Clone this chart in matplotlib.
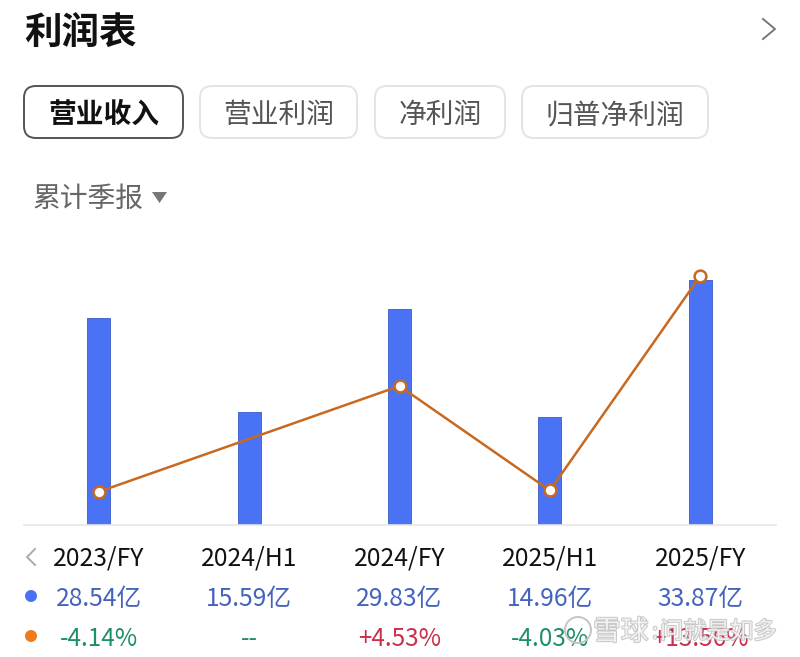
import matplotlib
matplotlib.use("Agg")
import matplotlib.pyplot as plt
import matplotlib.patheffects as pe
from matplotlib.patches import FancyBboxPatch, Polygon, Circle

plt.rcParams['font.family'] = ['Noto Sans CJK SC', 'DejaVu Sans']

periods = ['2023/FY', '2024/H1', '2024/FY', '2025/H1', '2025/FY']
revenue = [28.54, 15.59, 29.83, 14.96, 33.87]
growth = [-4.14, None, 4.53, -4.03, 13.56]
revenue_labels = ['28.54亿', '15.59亿', '29.83亿', '14.96亿', '33.87亿']
growth_labels = ['-4.14%', '--', '+4.53%', '-4.03%', '+13.56%']
tabs = ['营业收入', '营业利润', '净利润', '归普净利润']

W, H = 800, 657
BLUE = '#4a72f5'
ORANGE = '#c8691f'
GREEN = '#1f8f68'
RED = '#c9304f'
GREY = '#555555'

fig = plt.figure(figsize=(8, 6.57), dpi=100, facecolor='white')

# page furniture in pixel coordinates
bg = fig.add_axes([0, 0, 1, 1])
bg.set_xlim(0, W)
bg.set_ylim(H, 0)
bg.axis('off')

bg.text(24, 32, '利润表', fontsize=27, fontweight='bold', color='#111111', ha='left', va='center')
bg.plot([763, 775, 763], [19, 29, 39], color='#777777', lw=1.4)

boxes = [(24, 183), (200, 357), (375, 505), (522, 708)]
for i, (name, (x0, x1)) in enumerate(zip(tabs, boxes)):
    active = i == 0
    bg.add_patch(FancyBboxPatch((x0 + 12, 86 + 12), x1 - x0 - 24, 52 - 24,
                                boxstyle='round,pad=12,rounding_size=12',
                                fc='white', ec='#555555' if active else '#e4e4e4',
                                lw=1.4))
    bg.text((x0 + x1) / 2, 115, name, fontsize=20, ha='center', va='center',
            color='#111111' if active else '#555555',
            fontweight='bold' if active else 'normal')

bg.text(33, 199, '累计季报', fontsize=20, color='#666666', ha='left', va='center')
bg.add_patch(Polygon([[152, 192], [167, 192], [159.5, 203]], closed=True, fc='#777777', ec='none'))

bg.plot([35, 27, 35], [549, 557, 565], color='#aaaaaa', lw=1.4)
bg.add_patch(Circle((31, 596), 6, fc=BLUE, ec='none'))
bg.add_patch(Circle((31, 636), 6, fc='#f07a1c', ec='none'))

# chart: bars on the left scale, growth line on a twin scale
ax = fig.add_axes([23.5 / W, 1 - 525 / H, 752 / W, 275 / H])
ax.patch.set_alpha(0)
ax.set_xlim(-0.5, 4.5)
ax.set_ylim(0, 275 / 7.24)
x = list(range(len(periods)))
ax.bar(x, revenue, width=0.153, color=BLUE, edgecolor='#3a5bc8', linewidth=0.6, zorder=2)

for side in ['top', 'left', 'right']:
    ax.spines[side].set_visible(False)
ax.spines['bottom'].set_color('#e6e6e6')
ax.spines['bottom'].set_linewidth(1.2)
ax.set_yticks([])
ax.set_xticks(x)
ax.set_xticklabels(periods, fontsize=17.8, color='#111111')
ax.tick_params(axis='x', length=0, pad=14.5)

ax2 = ax.twinx()
ax2.set_ylim(-6.86, 15.68)
ax2.set_yticks([])
for side in ax2.spines:
    ax2.spines[side].set_visible(False)
gx = [i for i, v in zip(x, growth) if v is not None]
gy = [v for v in growth if v is not None]
ax2.plot(gx, gy, color=ORANGE, lw=1.8, marker='o', ms=8.5, mfc='white', mec=ORANGE, mew=1.8,
         zorder=3, clip_on=False)

# value rows under the axis
trans = ax.get_xaxis_transform()
for i, label in enumerate(revenue_labels):
    ax.text(i, -74 / 275, label, transform=trans, fontsize=17.8, color='#4463bd',
            ha='center', va='center')
for i, label in enumerate(growth_labels):
    if label.startswith('-'):
        c = GREEN
    elif label.startswith('+'):
        c = RED
    else:
        c = GREY
    ax.text(i, -114 / 275, label, transform=trans, fontsize=17.5, color=c,
            ha='center', va='center')

# watermark
halo = [pe.withStroke(linewidth=1.4, foreground='#b5b5b5')]
fig.text(593 / W, 1 - 632 / H, '雪球', fontsize=20, color='white', ha='left', va='center',
         alpha=0.75, path_effects=halo)
fig.text(652 / W, 1 - 632 / H, ':', fontsize=16, color='white', ha='left', va='center',
         alpha=0.75, path_effects=halo)
fig.text(660 / W, 1 - 632 / H, '问就是如多', fontsize=16.8, color='white', ha='left', va='center',
         alpha=0.75, path_effects=halo)
logo = Circle((578 / W * fig.get_figwidth() * 100, (1 - 630 / H) * fig.get_figheight() * 100), 13,
              transform=None, fc='none', ec='#c4c4c4', lw=1.4, zorder=5)
fig.add_artist(logo)

fig.savefig('out.png', dpi=100)
